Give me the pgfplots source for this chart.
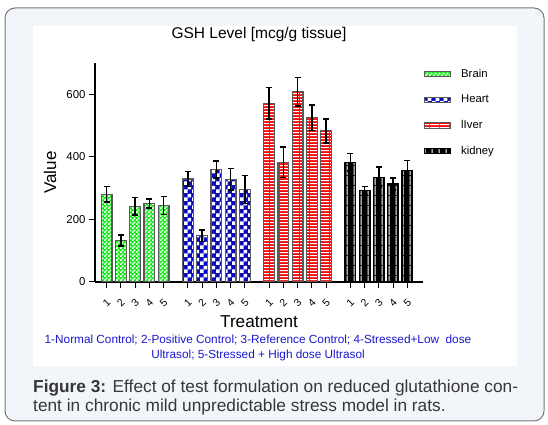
\documentclass[border=0pt]{standalone}
\usepackage{pgfplots}
\pgfplotsset{compat=1.18}
\usepackage{fontspec}
\setmainfont{Liberation Sans}
\usetikzlibrary{patterns}

\definecolor{bgc}{RGB}{242,246,250}
\definecolor{framegray}{RGB}{120,120,120}
\definecolor{notblue}{RGB}{25,25,205}
\definecolor{capgray}{RGB}{55,55,55}
\definecolor{bargreen}{RGB}{20,235,20}
\definecolor{barblue}{RGB}{10,10,190}
\definecolor{barred}{RGB}{245,10,10}
\definecolor{edgegray}{RGB}{90,90,90}

% fill patterns of the four tissues
\pgfdeclarepatternformonly{smallcheck}{\pgfqpoint{0pt}{0pt}}{\pgfqpoint{3.6pt}{3.6pt}}{\pgfqpoint{3.6pt}{3.6pt}}{
  \pgfpathrectangle{\pgfqpoint{0pt}{0pt}}{\pgfqpoint{1.8pt}{1.8pt}}
  \pgfpathrectangle{\pgfqpoint{1.8pt}{1.8pt}}{\pgfqpoint{1.8pt}{1.8pt}}
  \pgfusepath{fill}}
\pgfdeclarepatternformonly{bigcheck}{\pgfqpoint{0pt}{0pt}}{\pgfqpoint{8pt}{8pt}}{\pgfqpoint{8pt}{8pt}}{
  \pgfpathrectangle{\pgfqpoint{0pt}{0pt}}{\pgfqpoint{4pt}{4pt}}
  \pgfpathrectangle{\pgfqpoint{4pt}{4pt}}{\pgfqpoint{4pt}{4pt}}
  \pgfusepath{fill}}
\pgfdeclarepatternformonly{hstripes}{\pgfqpoint{0pt}{0pt}}{\pgfqpoint{10pt}{3.3pt}}{\pgfqpoint{10pt}{3.3pt}}{
  \pgfpathrectangle{\pgfqpoint{0pt}{1.1pt}}{\pgfqpoint{10pt}{1.1pt}}
  \pgfusepath{fill}}
\pgfdeclarepatternformonly{vstripes}{\pgfqpoint{0pt}{0pt}}{\pgfqpoint{6.5pt}{10pt}}{\pgfqpoint{6.5pt}{10pt}}{
  \pgfpathrectangle{\pgfqpoint{2.7pt}{0pt}}{\pgfqpoint{1.1pt}{10pt}}
  \pgfusepath{fill}}

\begin{document}
\begin{tikzpicture}
\path[use as bounding box] (0,0) rectangle (548pt,425pt);
\draw[fill=bgc, draw=framegray, line width=1pt, rounded corners=10pt] (5pt,4pt) rectangle (544pt,417pt);
\fill[white] (33pt,59pt) rectangle (517pt,399pt);

\begin{axis}[
  at={(95pt,143pt)}, anchor=south west,
  scale only axis,
  width=328pt, height=219pt,
  xmin=-0.82, xmax=22.2,
  ymin=0, ymax=700,
  axis lines*=left,
  axis line style={line width=1.1pt},
  tick align=outside,
  major tick length=6pt,
  tick style={line width=1pt, black},
  ytick={0,200,400,600},
  xtick={0,1,2,3,4,5.7,6.7,7.7,8.7,9.7,11.4,12.4,13.4,14.4,15.4,17.1,18.1,19.1,20.1,21.1},
  xticklabels={1,2,3,4,5,1,2,3,4,5,1,2,3,4,5,1,2,3,4,5},
  xticklabel style={anchor=center, yshift=-15pt, rotate=45, font=\fontsize{10.5}{12}\selectfont},
  yticklabel style={font=\fontsize{11.4}{13}\selectfont},
  /pgf/number format/assume math mode=true,
  title={GSH Level [mcg/g tissue]},
  title style={at={(axis description cs:0.5,1)}, anchor=center, yshift=23pt, font=\fontsize{15.5}{18}\selectfont},
  xlabel={Treatment},
  xlabel style={at={(axis description cs:0.5,0)}, anchor=center, yshift=-40pt, font=\fontsize{17.2}{20}\selectfont},
  ylabel={Value},
  ylabel style={at={(axis description cs:-0.137,0.5)}, anchor=center, font=\fontsize{17}{20}\selectfont},
  ybar, bar width=0.75, bar shift=0pt,
  legend style={at={(rel axis cs:1,1)}, anchor=north west, xshift=-2pt, yshift=-2pt,
    draw=none, fill=none, font=\fontsize{11.3}{13}\selectfont, row sep=12.2pt},
  legend cell align=left,
  legend image code/.code={\draw[#1, line width=0.8pt] (0pt,-2.6pt) rectangle (26pt,2.6pt); \path (34pt,0pt);},
  error bars/y dir=both, error bars/y explicit,
  error bars/error bar style={line width=1.5pt, black},
  error bars/error mark options={rotate=90, mark size=3pt, line width=1.5pt, black},
]
% Brain
\addplot[fill=bargreen, draw=edgegray, line width=1.2pt, postaction={pattern=smallcheck, pattern color=white}]
  coordinates {(0,280) +- (0,25) (1,133) +- (0,18) (2,242) +- (0,28) (3,251) +- (0,15) (4,245) +- (0,29)};
\addlegendentry{Brain}
% Heart
\addplot[fill=barblue, draw=edgegray, line width=1.2pt, postaction={pattern=bigcheck, pattern color=white}]
  coordinates {(5.7,329) +- (0,24) (6.7,148) +- (0,19) (7.7,360) +- (0,27) (8.7,328) +- (0,34) (9.7,296) +- (0,45)};
\addlegendentry{Heart}
% liver
\addplot[fill=barred, draw=edgegray, line width=1.2pt, postaction={pattern=hstripes, pattern color=white}]
  coordinates {(11.4,571) +- (0,50) (12.4,383) +- (0,49) (13.4,608) +- (0,46) (14.4,525) +- (0,41) (15.4,483) +- (0,38)};
\addlegendentry{lIver}
% kidney
\addplot[fill=black, draw=black, line width=1.2pt, postaction={pattern=vstripes, pattern color=white}]
  coordinates {(17.1,383) +- (0,28) (18.1,292) +- (0,14) (19.1,335) +- (0,32) (20.1,313) +- (0,19) (21.1,356) +- (0,32)};
\addlegendentry{kidney}
\end{axis}

\node[text=notblue, font=\fontsize{11.8}{13}\selectfont] at (258pt,85pt) {1-Normal Control; 2-Positive Control; 3-Reference Control; 4-Stressed+Low\ \ dose};
\node[text=notblue, font=\fontsize{11.8}{13}\selectfont] at (258pt,70pt) {Ultrasol; 5-Stressed + High dose Ultrasol};
\node[anchor=base west, text=capgray, font=\fontsize{17.3}{19}\selectfont, inner sep=0pt] at (33pt,32pt) {\textbf{Figure 3:} Effect of test formulation on reduced glutathione con-};
\node[anchor=base west, text=capgray, font=\fontsize{17.3}{19}\selectfont, inner sep=0pt] at (33pt,13pt) {tent in chronic mild unpredictable stress model in rats.};
\end{tikzpicture}
\end{document}
